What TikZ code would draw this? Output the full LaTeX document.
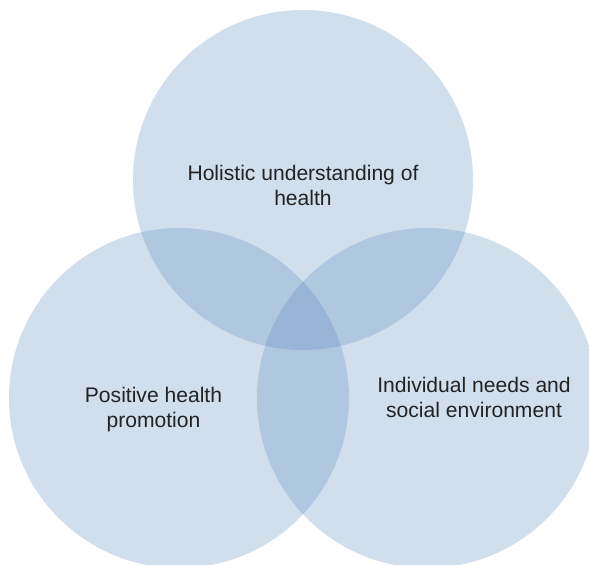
\documentclass[tikz,border=0pt]{standalone}
\usepackage{fontspec}
\setmainfont{Liberation Sans}
\usepackage{tikz}
\definecolor{venn}{RGB}{86,135,191}
\definecolor{ink}{RGB}{35,35,35}

\begin{document}
\begin{tikzpicture}[
    set/.style={fill=venn,fill opacity=0.267},
    lbl/.style={text=ink,align=center,font=\fontsize{12pt}{14.2pt}\selectfont}]
        \clip (0,0) rectangle (11.78,11.3);
        \fill[white] (0,0) rectangle (11.78,11.3);
        % the three sets
        \foreach \cx/\cy in {6.06/7.70,3.58/3.34,8.54/3.34}
            \fill[set] (\cx,\cy) circle (3.4);
        \node[lbl] (holistic) at (6.06,7.60) {Holistic understanding of\\health};
        \node[lbl] (positive) at (3.07,3.10) {Positive health\\promotion};
        \node[lbl] (needs) at (9.48,3.36) {Individual needs and\\social environment};
      \end{tikzpicture}
\end{document}
